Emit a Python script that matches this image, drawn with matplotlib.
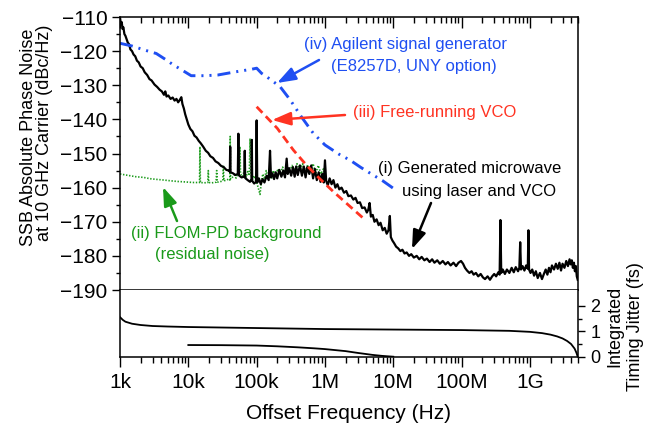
import numpy as np
import matplotlib
matplotlib.use("Agg")
import matplotlib.pyplot as plt
from matplotlib.ticker import FixedLocator, FixedFormatter, LogLocator, MultipleLocator, NullFormatter

plt.rcParams['font.family'] = ['Liberation Sans', 'DejaVu Sans']
plt.rcParams['lines.scale_dashes'] = False

# ---------------- data ----------------
# (i) generated microwave (black)
black_freq_hz = [
    1.00e3, 1.03e3, 1.06e3, 1.09e3, 1.12e3, 1.16e3, 1.20e3, 1.25e3, 1.30e3, 1.36e3,
    1.42e3, 1.50e3, 1.58e3, 1.67e3, 1.77e3, 1.88e3, 2.0e3, 2.15e3, 2.3e3, 2.5e3,
    2.7e3, 2.9e3, 3.2e3, 3.5e3, 3.8e3, 4.1e3, 4.4e3, 4.6e3, 4.8e3, 5.1e3,
    5.5e3, 5.9e3, 6.3e3, 6.7e3, 7.1e3, 7.5e3, 7.9e3, 8.2e3, 8.6e3, 9.0e3, 9.5e3,
    1.0e4, 1.07e4, 1.15e4, 1.23e4, 1.32e4, 1.42e4, 1.52e4, 1.65e4, 1.8e4, 1.95e4,
    2.1e4, 2.3e4, 2.5e4, 2.75e4, 3.0e4, 3.3e4, 3.6e4, 3.9e4, 4.05e4, 4.1e4,
    4.15e4, 4.5e4, 4.9e4, 5.3e4, 5.4e4, 5.5e4, 6.0e4, 6.6e4, 6.7e4, 6.8e4,
    7.4e4, 8.0e4, 8.4e4, 8.5e4, 8.6e4, 9.2e4, 9.8e4,
    1.0e5, 1.02e5, 1.08e5, 1.15e5, 1.22e5, 1.3e5, 1.4e5, 1.5e5, 1.57e5, 1.62e5,
    1.7e5, 1.8e5, 1.9e5, 2.0e5, 2.15e5, 2.3e5, 2.45e5, 2.6e5, 2.75e5, 2.85e5,
    3.0e5, 3.2e5, 3.4e5, 3.6e5, 3.8e5, 4.0e5, 4.3e5, 4.6e5, 4.9e5, 5.2e5,
    5.5e5, 5.9e5, 6.3e5, 6.7e5, 7.1e5, 7.6e5, 8.1e5, 8.6e5, 9.1e5, 9.6e5,
    1.0e6, 1.04e6, 1.1e6, 1.17e6, 1.25e6, 1.33e6, 1.42e6, 1.52e6, 1.62e6, 1.75e6,
    1.9e6, 2.05e6, 2.2e6, 2.4e6, 2.6e6, 2.8e6, 3.0e6, 3.25e6, 3.5e6, 3.8e6,
    4.1e6, 4.3e6, 4.5e6, 4.7e6, 5.0e6, 5.3e6, 5.7e6, 6.1e6, 6.5e6, 7.0e6,
    7.5e6, 8.0e6, 8.5e6, 8.9e6, 9.2e6, 9.7e6,
    1.03e7, 1.1e7, 1.18e7, 1.27e7, 1.36e7, 1.46e7, 1.57e7, 1.7e7, 1.83e7, 2.0e7,
    2.2e7, 2.4e7, 2.6e7, 2.85e7, 3.1e7, 3.4e7, 3.7e7, 4.0e7, 4.4e7, 4.8e7,
    5.3e7, 5.8e7, 6.3e7, 6.9e7, 7.6e7, 8.3e7, 9.0e7, 9.8e7,
    1.05e8, 1.12e8, 1.2e8, 1.3e8, 1.4e8, 1.5e8, 1.62e8, 1.75e8, 1.9e8, 2.05e8,
    2.2e8, 2.4e8, 2.6e8, 2.8e8, 3.0e8, 3.2e8, 3.45e8, 3.6e8, 3.7e8, 3.8e8,
    4.0e8, 4.3e8, 4.6e8, 5.0e8, 5.4e8, 5.8e8, 6.2e8, 6.7e8, 7.0e8, 7.2e8,
    7.4e8, 7.8e8, 8.3e8, 8.8e8, 9.3e8, 9.5e8, 9.7e8,
    1.02e9, 1.08e9, 1.15e9, 1.22e9, 1.3e9, 1.4e9, 1.5e9, 1.6e9, 1.7e9, 1.8e9,
    1.9e9, 2.0e9, 2.1e9, 2.25e9, 2.4e9, 2.55e9, 2.7e9, 2.85e9, 3.0e9, 3.2e9,
    3.4e9, 3.6e9, 3.8e9, 3.95e9, 4.1e9, 4.25e9, 4.4e9, 4.55e9, 4.7e9, 4.85e9, 5.0e9,
]
black_pn_dbc = [
    -110.5, -112.0, -111.5, -113.5, -113.0, -115.0, -115.5, -116.5, -117.5, -118.0,
    -119.5, -120.0, -121.0, -121.5, -122.8, -123.3, -124.5, -125.0, -126.2, -127.0,
    -128.2, -128.6, -129.8, -130.5, -131.3, -131.8, -132.8, -131.8, -133.3, -133.0,
    -134.0, -133.6, -134.5, -134.0, -135.0, -134.3, -133.5, -135.5, -136.8, -138.5, -140.0,
    -141.5, -142.8, -143.5, -144.8, -145.3, -146.3, -147.0, -148.0, -149.2, -149.8,
    -150.8, -151.3, -152.3, -152.8, -153.6, -154.0, -154.8, -155.0, -155.3, -148.0,
    -155.5, -155.8, -156.3, -156.0, -144.2, -156.4, -157.0, -156.8, -149.2, -157.2,
    -157.8, -158.3, -157.5, -146.0, -158.0, -158.8, -158.3,
    -140.3, -158.5, -157.3, -159.0, -157.5, -158.5, -156.5, -157.8, -149.2, -157.0,
    -155.8, -157.5, -155.5, -157.3, -154.8, -156.8, -155.0, -157.0, -151.5, -156.0,
    -154.3, -156.5, -154.0, -156.8, -153.8, -156.3, -153.5, -156.5, -153.8, -157.0,
    -154.0, -156.0, -153.5, -157.3, -154.5, -157.8, -155.5, -158.3, -156.0, -158.5,
    -152.0, -158.0, -159.3, -157.3, -159.0, -157.8, -160.0, -159.0, -160.5, -160.0,
    -161.5, -161.0, -162.5, -162.3, -163.5, -163.0, -164.5, -164.3, -166.0, -165.8,
    -167.3, -166.5, -164.5, -168.5, -168.0, -170.0, -169.3, -171.0, -170.3, -172.5,
    -171.8, -173.5, -172.5, -168.3, -174.5, -175.5,
    -176.3, -177.3, -177.8, -178.6, -178.2, -179.3, -179.0, -180.0, -179.5, -180.5,
    -180.0, -181.0, -180.3, -181.3, -180.8, -181.8, -181.0, -182.0, -181.3, -182.3,
    -181.5, -182.5, -181.8, -182.8, -182.0, -183.0, -182.0, -181.5,
    -182.3, -183.5, -184.3, -185.0, -184.5, -185.5, -185.0, -186.0, -185.3, -186.3,
    -186.8, -186.0, -187.0, -186.0, -185.3, -186.0, -184.8, -185.5, -169.5, -185.0,
    -184.0, -185.3, -184.0, -185.0, -183.5, -184.8, -183.3, -184.5, -183.5, -176.0,
    -184.0, -183.0, -184.3, -182.8, -183.8, -172.5, -184.0,
    -185.0, -184.0, -185.8, -184.5, -186.5, -185.0, -186.8, -185.3, -184.0, -185.5,
    -183.5, -184.8, -182.8, -184.0, -182.3, -183.8, -182.0, -184.3, -182.3, -183.5,
    -181.5, -183.0, -181.0, -182.5, -181.3, -183.5, -182.0, -184.5, -183.0, -186.0, -187.0,
]

# (ii) FLOM-PD background (green)
green_freq_hz = [
    1.0e3, 1.3e3, 1.7e3, 2.2e3, 2.8e3, 3.5e3, 4.5e3, 5.5e3, 7e3, 8.5e3,
    1.0e4, 1.2e4, 1.4e4, 1.46e4, 1.48e4, 1.5e4, 1.7e4, 1.93e4, 1.96e4, 1.99e4,
    2.2e4, 2.55e4, 2.6e4, 2.65e4, 2.9e4, 3.2e4, 3.26e4, 3.32e4, 3.6e4, 3.9e4,
    4.05e4, 4.1e4, 4.15e4, 4.4e4, 4.7e4, 5.0e4, 5.3e4, 5.6e4, 5.7e4, 5.8e4,
    6.2e4, 6.6e4, 7.0e4, 7.4e4, 7.8e4, 8.0e4, 8.2e4, 8.7e4, 9.2e4, 9.7e4,
    1.02e5, 1.07e5, 1.12e5, 1.17e5, 1.23e5, 1.3e5, 1.38e5, 1.46e5, 1.55e5, 1.65e5,
    1.75e5, 1.9e5, 2.05e5, 2.2e5, 2.4e5, 2.6e5, 2.8e5, 3.0e5, 3.3e5, 3.6e5,
    3.9e5, 4.3e5, 4.7e5, 5.1e5, 5.6e5, 6.1e5, 6.7e5, 7.3e5, 8.0e5, 8.7e5,
    9.5e5, 1.0e6,
]
green_pn_dbc = [
    -156.0, -156.4, -156.8, -157.0, -157.4, -157.6, -157.8, -158.0, -158.2, -158.3,
    -158.4, -158.5, -158.5, -158.5, -148.0, -158.5, -158.6, -158.5, -155.0, -158.5,
    -158.6, -158.4, -155.0, -158.4, -158.3, -158.0, -153.5, -158.0, -157.8, -157.5,
    -157.8, -145.0, -157.5, -157.0, -156.3, -157.2, -156.0, -155.5, -148.0, -156.0,
    -156.8, -155.0, -157.0, -155.3, -156.5, -145.6, -156.0, -157.5, -156.5, -158.0,
    -159.0, -160.5, -162.0, -158.5, -156.0, -157.5, -155.0, -157.0, -155.5, -157.5,
    -155.0, -156.5, -154.5, -156.0, -154.0, -155.8, -153.8, -155.5, -153.5, -155.0,
    -153.0, -155.0, -153.0, -155.5, -153.3, -155.3, -153.0, -155.8, -153.5, -156.0,
    -154.5, -156.0,
]

# (iii) free-running VCO (red)
red_freq_hz = [1.0e5, 2.0e5, 3.45e5, 5.4e5, 8.5e5, 1.33e6, 2.35e6, 3.9e6]
red_pn_dbc = [-136.3, -142.6, -149.0, -153.5, -157.5, -161.2, -165.6, -169.5]

# (iv) Agilent E8257D (blue)
blue_freq_hz = [1e3, 1.5e3, 2.3e3, 3.4e3, 4.6e3, 6e3, 8e3, 1.1e4, 1.75e4, 2.7e4,
                4.8e4, 8.5e4, 1.0e5, 1.18e5, 1.4e5, 2.2e5, 3.1e5, 4.5e5, 6.7e5, 1.0e6,
                1.6e6, 2.35e6, 3.3e6, 4.6e6, 7e6, 1.0e7]
blue_pn_dbc = [-117.7, -118.5, -119.7, -120.7, -122.4, -124.0, -125.5, -127.2, -127.2, -127.0,
               -126.1, -125.3, -125.0, -126.5, -127.5, -130.4, -134.3, -139.2, -144.0, -147.5,
               -150.2, -152.0, -154.0, -155.8, -158.0, -160.2]

# integrated timing jitter (fs)
jit1_freq_hz = [1.0e3, 1.1e3, 1.2e3, 1.5e3, 2.0e3, 3.0e3, 5.0e3, 1.0e4, 1.0e5, 1.0e6,
                1.0e7, 1.0e8, 5.0e8, 1.0e9, 1.5e9, 2.0e9, 2.5e9, 3.0e9, 3.5e9, 4.0e9,
                4.5e9, 4.8e9, 5.0e9]
jit1_fs = [1.56, 1.45, 1.38, 1.30, 1.25, 1.21, 1.19, 1.17, 1.13, 1.09,
           1.07, 1.05, 1.02, 0.98, 0.93, 0.87, 0.80, 0.72, 0.62, 0.50,
           0.32, 0.15, 0.0]
jit2_freq_hz = [1.0e4, 3.0e4, 1.0e5, 2.0e5, 4.0e5, 7.0e5, 1.0e6, 2.0e6, 3.0e6, 5.0e6, 7.0e6, 1.0e7]
jit2_fs = [0.46, 0.455, 0.44, 0.41, 0.37, 0.33, 0.30, 0.22, 0.15, 0.07, 0.03, 0.0]

xtick_vals = [1e3, 1e4, 1e5, 1e6, 1e7, 1e8, 1e9]
xtick_labels = ['1k', '10k', '100k', '1M', '10M', '100M', '1G']

# ---------------- figure ----------------
W_PX, H_PX = 647, 423
fig = plt.figure(figsize=(W_PX / 100, H_PX / 100), dpi=100)

def fx(x):
    return x / W_PX

def fy(y):
    return 1 - y / H_PX

LEFT, RIGHT = 120, 577.7
ax1 = fig.add_axes([fx(LEFT), fy(290), (RIGHT - LEFT) / W_PX, (290 - 17) / H_PX])
ax2 = fig.add_axes([fx(LEFT), fy(356.7), (RIGHT - LEFT) / W_PX, (356.7 - 290) / H_PX])

BLUE = '#1f4ff2'
RED = '#ff3322'
GREEN = '#1a9a1a'

ax1.plot(green_freq_hz, green_pn_dbc, color=GREEN, lw=1.2, linestyle=(0, (1.0, 1.2)))
ax1.plot(black_freq_hz, black_pn_dbc, color='black', lw=1.6)
ax1.plot(red_freq_hz, red_pn_dbc, color=RED, lw=2.0, linestyle=(0, (6, 3.5)))
ax1.plot(blue_freq_hz, blue_pn_dbc, color=BLUE, lw=2.1,
         linestyle=(0, (9.4, 4.3, 1.5, 4.3, 1.5, 4.3)))

for ax in (ax1, ax2):
    ax.set_xscale('log')
    ax.set_xlim(1e3, 5e9)
    for s in ax.spines.values():
        s.set_linewidth(1.1)

ax1.set_ylim(-190, -110)
ax1.set_yticks(np.arange(-190, -109, 10))
ax1.yaxis.set_minor_locator(MultipleLocator(5))
ax1.tick_params(axis='y', which='major', direction='out', length=6, width=1.0,
                labelsize=15, pad=3)
ax1.tick_params(axis='y', which='minor', direction='out', length=3, width=1.0)
ax1.xaxis.set_major_locator(LogLocator(base=10, numticks=20))
ax1.xaxis.set_minor_locator(LogLocator(base=10, subs=np.arange(2, 10), numticks=20))
ax1.xaxis.set_minor_formatter(NullFormatter())
ax1.tick_params(axis='x', which='both', direction='in', top=True, bottom=False,
                labelbottom=False, labeltop=False, width=1.0)
ax1.tick_params(axis='x', which='major', length=8)
ax1.tick_params(axis='x', which='minor', length=4)

ax2.plot(jit1_freq_hz, jit1_fs, color='black', lw=1.3)
ax2.plot(jit2_freq_hz, jit2_fs, color='black', lw=1.3)
ax2.set_ylim(0, 2.63)
ax2.spines['top'].set_visible(False)
ax2.yaxis.tick_right()
ax2.set_yticks([0, 1, 2])
ax2.yaxis.set_minor_locator(FixedLocator([0.5, 1.5]))
ax2.tick_params(axis='y', which='major', direction='out', length=5, width=1.0,
                labelsize=13, pad=4)
ax2.tick_params(axis='y', which='minor', direction='out', length=3, width=1.0)
ax2.xaxis.set_major_locator(FixedLocator(xtick_vals))
ax2.xaxis.set_major_formatter(FixedFormatter(xtick_labels))
ax2.xaxis.set_minor_locator(LogLocator(base=10, subs=np.arange(2, 10), numticks=20))
ax2.xaxis.set_minor_formatter(NullFormatter())
ax2.tick_params(axis='x', which='major', direction='out', length=7, width=1.0,
                labelsize=15, pad=5)
ax2.tick_params(axis='x', which='minor', direction='out', length=4, width=1.0)

# axis labels
fig.text(fx(348.8), fy(419), 'Offset Frequency (Hz)', ha='center', va='baseline',
         fontsize=15)
fig.text(fx(29), fy(137), 'SSB Absolute Phase Noise', rotation=90,
         ha='center', va='center', fontsize=13)
fig.text(fx(45), fy(133), 'at 10 GHz Carrier (dBc/Hz)', rotation=90,
         ha='center', va='center', fontsize=13)
fig.text(fx(615), fy(326), 'Integrated', rotation=90, ha='center', va='center',
         fontsize=13)
fig.text(fx(636), fy(327), 'Timing Jitter (fs)', rotation=90, ha='center',
         va='center', fontsize=13)

# annotations
ANN = 12
fig.text(fx(304), fy(45), '(iv) Agilent signal generator', color=BLUE,
         fontsize=ANN, ha='left', va='center')
fig.text(fx(331), fy(67), '(E8257D, UNY option)', color=BLUE,
         fontsize=ANN, ha='left', va='center')
fig.text(fx(353), fy(112), '(iii) Free-running VCO', color=RED,
         fontsize=ANN, ha='left', va='center')
fig.text(fx(378), fy(168), '(i) Generated microwave', color='black',
         fontsize=ANN, ha='left', va='center')
fig.text(fx(402), fy(191), 'using laser and VCO', color='black',
         fontsize=ANN, ha='left', va='center')
fig.text(fx(131), fy(233), '(ii) FLOM-PD background', color=GREEN,
         fontsize=ANN, ha='left', va='center')
fig.text(fx(155), fy(255), '(residual noise)', color=GREEN,
         fontsize=ANN, ha='left', va='center')

def arrow(tail, head, color):
    fig.add_artist(matplotlib.patches.FancyArrowPatch(
        posA=(fx(tail[0]), fy(tail[1])), posB=(fx(head[0]), fy(head[1])),
        transform=fig.transFigure,
        arrowstyle='-|>,head_length=0.7,head_width=0.25', mutation_scale=16,
        lw=1.8, color=color, shrinkA=0, shrinkB=0))

arrow((319, 60), (277, 83), BLUE)
arrow((345, 115), (272, 120), RED)
arrow((431, 203), (412, 249), 'black')
arrow((177, 221), (163, 187), GREEN)

fig.savefig('out.png', dpi=100)
